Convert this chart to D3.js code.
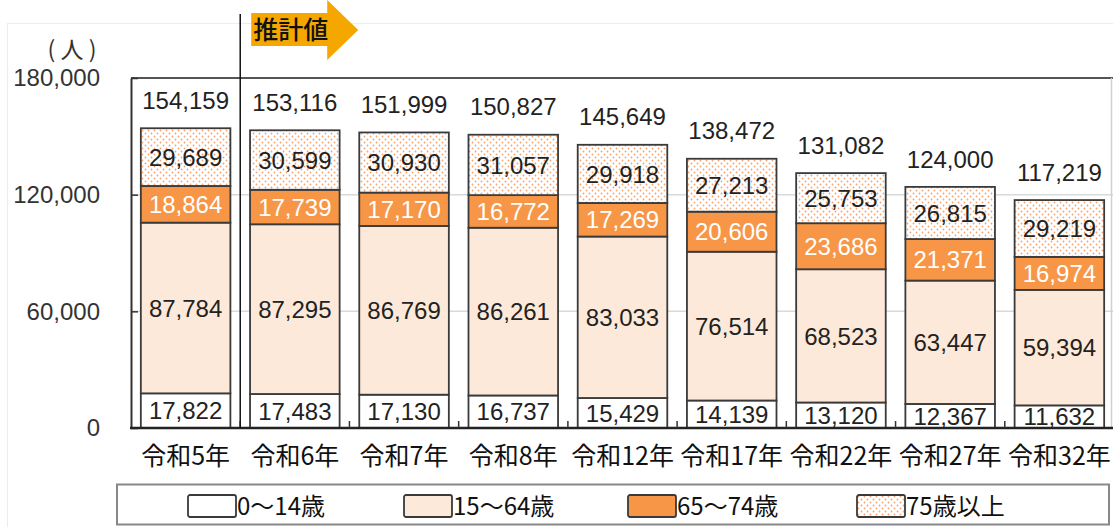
<!DOCTYPE html>
<html>
<head>
<meta charset="utf-8">
<script src="https://cdn.jsdelivr.net/npm/d3@7"></script>
<style>
  body { margin: 0; background: #fff; }
  svg { display: block; }
</style>
</head>
<body>
<div id="chart"></div>
<script>
// data
var categories = ["令和5年", "令和6年", "令和7年", "令和8年", "令和12年", "令和17年", "令和22年", "令和27年", "令和32年"];
var age0to14 = [17822, 17483, 17130, 16737, 15429, 14139, 13120, 12367, 11632];
var age15to64 = [87784, 87295, 86769, 86261, 83033, 76514, 68523, 63447, 59394];
var age65to74 = [18864, 17739, 17170, 16772, 17269, 20606, 23686, 21371, 16974];
var age75plus = [29689, 30599, 30930, 31057, 29918, 27213, 25753, 26815, 29219];
var totals = [154159, 153116, 151999, 150827, 145649, 138472, 131082, 124000, 117219];
var yTicks = [0, 60000, 120000, 180000];
var seriesNames = ["0～14歳", "15～64歳", "65～74歳", "75歳以上"];

var width = 1113, height = 527;
var margin = {top: 78, right: -1, bottom: 99, left: 131};
var numFont = "'Liberation Sans', Arial, sans-serif";
var jpFont = "'Noto Sans CJK JP', sans-serif";

var svg = d3.select("#chart").append("svg")
    .attr("width", width)
    .attr("height", height);

var defs = svg.append("defs");
var pat = defs.append("pattern")
    .attr("id", "dots")
    .attr("patternUnits", "userSpaceOnUse")
    .attr("width", 6)
    .attr("height", 6);
pat.append("rect").attr("width", 6).attr("height", 6).attr("fill", "#fff");
pat.append("circle").attr("cx", 1.5).attr("cy", 1.5).attr("r", 0.9).attr("fill", "#f7a36a");
pat.append("circle").attr("cx", 4.5).attr("cy", 4.5).attr("r", 0.9).attr("fill", "#f7a36a");

var fills = ["#ffffff", "#fde9d9", "#f79646", "url(#dots)"];
var labelColors = ["#222", "#222", "#fff", "#222"];

// faint outer frame
svg.append("rect")
    .attr("x", 7.5).attr("y", 23.5)
    .attr("width", 1130).attr("height", 520)
    .attr("fill", "none")
    .attr("stroke", "#ececec");

var x = d3.scaleBand()
    .domain(categories)
    .range([margin.left, width - margin.right])
    .paddingInner(0.18)
    .paddingOuter(0.09);

var y = d3.scaleLinear()
    .domain([0, 180000])
    .range([height - margin.bottom, margin.top]);

// gridlines
svg.append("g")
    .selectAll("line")
    .data([60000, 120000])
    .join("line")
    .attr("x1", margin.left)
    .attr("x2", width)
    .attr("y1", d => y(d))
    .attr("y2", d => y(d))
    .attr("stroke", "#d9d9d9")
    .attr("stroke-width", 1.5);

// plot frame
svg.append("line")
    .attr("x1", margin.left).attr("x2", width)
    .attr("y1", y(180000)).attr("y2", y(180000))
    .attr("stroke", "#555").attr("stroke-width", 2);
svg.append("line")
    .attr("x1", width - 1.5).attr("x2", width - 1.5)
    .attr("y1", y(180000)).attr("y2", y(0))
    .attr("stroke", "#d0d0d0").attr("stroke-width", 1.5);

// stacked bars
var stack = [age0to14, age15to64, age65to74, age75plus];
var bars = svg.append("g");
categories.forEach(function (cat, i) {
    var base = 0;
    stack.forEach(function (series, s) {
        var v = series[i];
        bars.append("rect")
            .attr("x", x(cat))
            .attr("y", y(base + v))
            .attr("width", x.bandwidth())
            .attr("height", y(base) - y(base + v))
            .attr("fill", fills[s])
            .attr("stroke", "#3a3a3a")
            .attr("stroke-width", 1.8);
        bars.append("text")
            .attr("x", x(cat) + x.bandwidth() / 2)
            .attr("y", y(base + v / 2))
            .attr("dy", "0.36em")
            .attr("text-anchor", "middle")
            .style("font-family", numFont)
            .style("font-size", "24px")
            .attr("fill", labelColors[s])
            .text(d3.format(",")(v));
        base += v;
    });
});

// totals above bars
svg.append("g")
    .selectAll("text")
    .data(totals)
    .join("text")
    .attr("x", (d, i) => x(categories[i]) + x.bandwidth() / 2)
    .attr("y", d => y(d) - 28)
    .attr("dy", "0.36em")
    .attr("text-anchor", "middle")
    .style("font-family", numFont)
    .style("font-size", "24px")
    .attr("fill", "#222")
    .text(d => d3.format(",")(d));

// y axis
var yAxis = svg.append("g")
    .attr("transform", "translate(" + margin.left + ",0)")
    .call(d3.axisLeft(y).tickValues(yTicks).tickSizeInner(-7).tickSizeOuter(0)
        .tickPadding(31).tickFormat(d3.format(",")));
yAxis.select(".domain").attr("stroke", "#333").attr("stroke-width", 2);
yAxis.selectAll(".tick line").attr("stroke", "#333").attr("stroke-width", 1.5);
yAxis.selectAll(".tick text")
    .style("font-family", numFont)
    .style("font-size", "24px")
    .attr("fill", "#333");

// x axis line and category separators
var xAxis = svg.append("g")
    .attr("transform", "translate(0," + y(0) + ")")
    .call(d3.axisBottom(x).tickSize(0).tickPadding(19));
xAxis.select(".domain").remove();
xAxis.selectAll(".tick text")
    .style("font-family", jpFont)
    .style("font-size", "25px")
    .attr("fill", "#111");
svg.append("line")
    .attr("x1", margin.left - 1).attr("x2", width)
    .attr("y1", y(0)).attr("y2", y(0))
    .attr("stroke", "#222").attr("stroke-width", 2.5);
var gap = x.step() * x.paddingInner() / 2;
svg.append("g")
    .selectAll("line")
    .data(categories.slice(1))
    .join("line")
    .attr("x1", d => x(d) - gap)
    .attr("x2", d => x(d) - gap)
    .attr("y1", y(0))
    .attr("y2", y(0) - 7)
    .attr("stroke", "#333")
    .attr("stroke-width", 1.5);

// unit label
svg.append("text")
    .attr("x", 72)
    .attr("y", 50)
    .attr("dy", "0.36em")
    .attr("text-anchor", "middle")
    .style("font-family", jpFont)
    .style("font-size", "23px")
    .attr("fill", "#333")
    .text("( 人 )");

// divider between actual and estimate
var divX = x(categories[1]) - gap;
svg.append("line")
    .attr("x1", divX).attr("x2", divX)
    .attr("y1", 14).attr("y2", y(0))
    .attr("stroke", "#111")
    .attr("stroke-width", 1.5);

// estimate arrow
var ax = divX + 11;
svg.append("path")
    .attr("d", "M" + ax + ",13 H" + (ax + 76) + " V0 L" + (ax + 107) + ",30 L" + (ax + 76) + ",60 V46 H" + ax + " Z")
    .attr("fill", "#f5a700");
svg.append("text")
    .attr("x", ax + 2)
    .attr("y", 30)
    .attr("dy", "0.36em")
    .style("font-family", jpFont)
    .style("font-size", "25px")
    .style("font-weight", "500")
    .attr("fill", "#111")
    .text("推計値");

// legend
svg.append("rect")
    .attr("x", 117).attr("y", 484.5)
    .attr("width", 992).attr("height", 40)
    .attr("fill", "#fff")
    .attr("stroke", "#888")
    .attr("stroke-width", 2);
var legendX = [188, 404, 628, 857];
var legend = svg.append("g")
    .selectAll("g")
    .data(seriesNames)
    .join("g")
    .attr("transform", (d, i) => "translate(" + legendX[i] + ",495)");
legend.append("rect")
    .attr("width", 48)
    .attr("height", 22)
    .attr("rx", 2)
    .attr("fill", (d, i) => fills[i])
    .attr("stroke", "#3a3a3a")
    .attr("stroke-width", 1.8);
legend.append("text")
    .attr("x", 49)
    .attr("y", 11)
    .attr("dy", "0.36em")
    .style("font-family", jpFont)
    .style("font-size", "24px")
    .attr("fill", "#111")
    .text(d => d);
</script>
</body>
</html>
